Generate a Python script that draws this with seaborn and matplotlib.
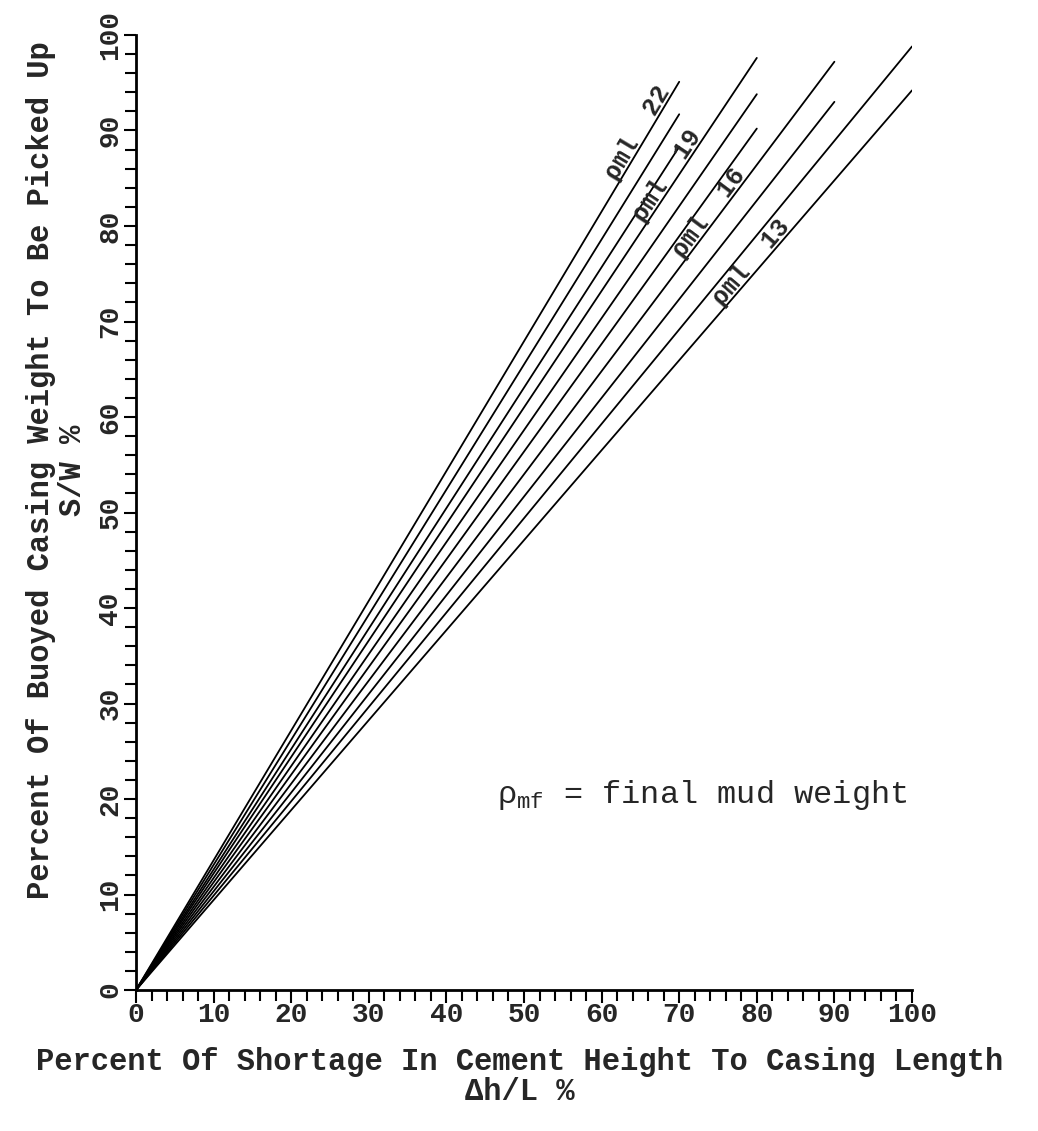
import numpy as np
import pandas as pd
import seaborn as sns
import matplotlib.pyplot as plt
from matplotlib.ticker import MultipleLocator

# final mud weight of each line and where each line stops
mud_weight = [22, 21, 20, 19, 18, 17, 16, 15, 14, 13]
x_end = [70, 70, 70, 80, 80, 80, 90, 90, 100, 100]
y_end = [95.1, 91.7, 88.3, 97.6, 93.8, 90.2, 97.2, 93.0, 98.8, 94.2]

# which lines carry a label and where the label starts along x
label_weights = [22, 19, 16, 13]
label_x = [62.0, 65.5, 70.5, 75.5]

x_ticks = list(range(0, 101, 10))
y_ticks = list(range(0, 101, 10))

# long-format table: every line goes from the origin to its end point
rows = []
for w, xe, ye in zip(mud_weight, x_end, y_end):
    rows.append({"rho": w, "x": 0.0, "y": 0.0})
    rows.append({"rho": w, "x": xe, "y": ye})
df = pd.DataFrame(rows)

sns.set_theme(style="ticks")
plt.rcParams['font.family'] = ['Liberation Mono', 'DejaVu Sans Mono', 'DejaVu Sans']
plt.rcParams['mathtext.fontset'] = 'custom'
plt.rcParams['mathtext.rm'] = 'Liberation Mono'
plt.rcParams['mathtext.it'] = 'Liberation Mono'

fig = plt.figure(figsize=(10.38, 11.31), dpi=100)
ax = fig.add_axes([136 / 1038, 141 / 1131, 776 / 1038, 955 / 1131])

sns.lineplot(data=df, x="x", y="y", units="rho", estimator=None,
             color="black", linewidth=1.3, ax=ax, legend=False)

ax.set_xlim(0, 100)
ax.set_ylim(0, 100)
ax.set_xticks(x_ticks)
ax.set_yticks(y_ticks)
ax.xaxis.set_minor_locator(MultipleLocator(2))
ax.yaxis.set_minor_locator(MultipleLocator(2))
ax.tick_params(which="both", direction="out", width=1.5, color="black")
ax.tick_params(which="major", length=9)
ax.tick_params(which="minor", length=8)
ax.tick_params(axis="x", labelsize=20, pad=0)
ax.tick_params(axis="y", labelsize=20, pad=0, labelrotation=90)
for lab in ax.get_yticklabels():
    lab.set_va("center")
for lab in ax.get_xticklabels() + ax.get_yticklabels():
    lab.set_fontweight("bold")
sns.despine(ax=ax)
for s in ["left", "bottom"]:
    ax.spines[s].set_linewidth(2)
    ax.spines[s].set_color("black")
ax.set_xlabel("")
ax.set_ylabel("")

# labels along the lines, rotated to the drawn slope
for w, lx in zip(label_weights, label_x):
    i = mud_weight.index(w)
    slope = y_end[i] / x_end[i]
    p0 = ax.transData.transform((0, 0))
    p1 = ax.transData.transform((x_end[i], y_end[i]))
    angle = np.degrees(np.arctan2(p1[1] - p0[1], p1[0] - p0[0]))
    ax.text(lx, lx * slope + 0.4, f"ρml  {w}", rotation=angle, rotation_mode="anchor",
            ha="left", va="baseline", fontsize=18, fontweight="bold")

ax.text(46.5, 20.4, r"$\rho_{\mathrm{mf}}$ = final mud weight", fontsize=23,
        ha="left", va="center")

fig.text(57 / 1038, 1 - 470 / 1131,
         "Percent Of Buoyed Casing Weight To Be Picked Up\nS/W %",
         rotation=90, ha="center", va="center", fontsize=22, fontweight="bold",
         multialignment="center", linespacing=1.1)
fig.text(520 / 1038, 1 - 1077 / 1131,
         "Percent Of Shortage In Cement Height To Casing Length\nΔh/L %",
         ha="center", va="center", fontsize=22, fontweight="bold",
         multialignment="center", linespacing=1.0)

plt.savefig("out.png", dpi=100)
